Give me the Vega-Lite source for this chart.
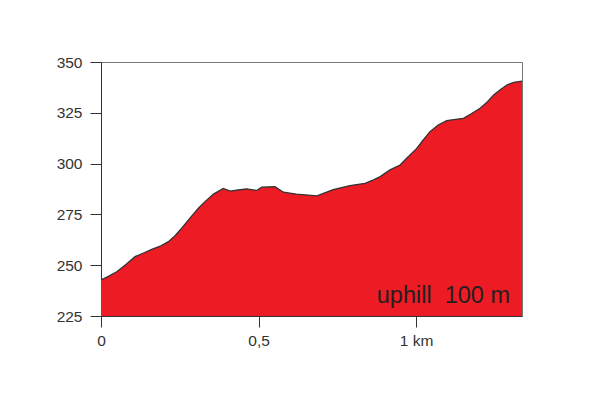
{
  "$schema": "https://vega.github.io/schema/vega-lite/v6.json",
  "width": 421,
  "height": 254,
  "autosize": {"type": "none"},
  "padding": {"left": 101, "top": 62, "right": 78, "bottom": 84},
  "background": "white",
  "config": {
    "view": {"stroke": "#777777", "strokeWidth": 1},
    "font": "Liberation Sans",
    "axis": {
      "labelFont": "Liberation Sans",
      "labelFontSize": 15.5,
      "labelColor": "#333333",
      "domainColor": "#333333",
      "tickColor": "#333333",
      "grid": false,
      "tickSize": 11,
      "labelPadding": 8,
      "domainWidth": 1,
      "tickWidth": 1
    }
  },
  "datasets": {
    "profile": [
      {"km": 0.0, "elev": 242.7},
      {"km": 0.025, "elev": 244.6},
      {"km": 0.05, "elev": 246.8},
      {"km": 0.08, "elev": 250.5},
      {"km": 0.108, "elev": 254.2},
      {"km": 0.135, "elev": 256.0},
      {"km": 0.161, "elev": 257.8},
      {"km": 0.19, "elev": 259.5},
      {"km": 0.214, "elev": 261.6},
      {"km": 0.235, "elev": 264.5},
      {"km": 0.251, "elev": 267.3},
      {"km": 0.277, "elev": 272.2},
      {"km": 0.295, "elev": 275.5},
      {"km": 0.309, "elev": 278.0},
      {"km": 0.33, "elev": 281.3},
      {"km": 0.357, "elev": 285.0},
      {"km": 0.388, "elev": 287.8},
      {"km": 0.41, "elev": 286.5},
      {"km": 0.435, "elev": 287.0},
      {"km": 0.462, "elev": 287.6},
      {"km": 0.494, "elev": 286.8},
      {"km": 0.51, "elev": 288.4},
      {"km": 0.552, "elev": 288.6},
      {"km": 0.579, "elev": 285.9},
      {"km": 0.62, "elev": 285.0},
      {"km": 0.658, "elev": 284.5},
      {"km": 0.685, "elev": 284.1},
      {"km": 0.737, "elev": 287.2},
      {"km": 0.79, "elev": 289.2},
      {"km": 0.838, "elev": 290.3},
      {"km": 0.865, "elev": 292.0},
      {"km": 0.886, "elev": 293.6},
      {"km": 0.917, "elev": 296.9},
      {"km": 0.949, "elev": 299.3},
      {"km": 0.97, "elev": 302.6},
      {"km": 1.002, "elev": 307.5},
      {"km": 1.022, "elev": 311.5},
      {"km": 1.044, "elev": 315.7},
      {"km": 1.07, "elev": 319.0},
      {"km": 1.097, "elev": 321.1},
      {"km": 1.125, "elev": 321.8},
      {"km": 1.15, "elev": 322.3},
      {"km": 1.175, "elev": 324.5},
      {"km": 1.203, "elev": 327.2},
      {"km": 1.225, "elev": 330.2},
      {"km": 1.246, "elev": 333.8},
      {"km": 1.268, "elev": 336.5},
      {"km": 1.288, "elev": 338.7},
      {"km": 1.31, "elev": 340.0},
      {"km": 1.336, "elev": 340.6}
    ],
    "label": [
      {"km": 1.298, "elev": 231.5, "text": "uphill\u00a0\u00a0100 m"}
    ]
  },
  "layer": [
    {
      "data": {"name": "profile"},
      "mark": {"type": "area", "clip": true, "color": "#ED1C24", "fillOpacity": 1, "opacity": 1, "line": {"color": "#333333", "strokeWidth": 1.3}},
      "encoding": {
        "x": {
          "field": "km", "type": "quantitative",
          "scale": {"domain": [0, 1.336], "nice": false, "zero": false},
          "axis": {"title": null, "values": [0, 0.5, 1], "labelExpr": "datum.value == 0 ? '0' : datum.value == 0.5 ? '0,5' : '1 km'", "labelFlush": false, "labelPadding": 6}
        },
        "y": {
          "field": "elev", "type": "quantitative",
          "scale": {"domain": [225, 350], "nice": false, "zero": false},
          "axis": {"title": null, "values": [225, 250, 275, 300, 325, 350], "labelPadding": 8}
        },
        "y2": {"datum": 225}
      }
    },
    {
      "data": {"name": "label"},
      "mark": {"type": "text", "align": "right", "baseline": "alphabetic", "fontSize": 23.5, "font": "Liberation Sans", "color": "#231F20"},
      "encoding": {
        "x": {"field": "km", "type": "quantitative"},
        "y": {"field": "elev", "type": "quantitative"},
        "text": {"field": "text"}
      }
    }
  ]
}
